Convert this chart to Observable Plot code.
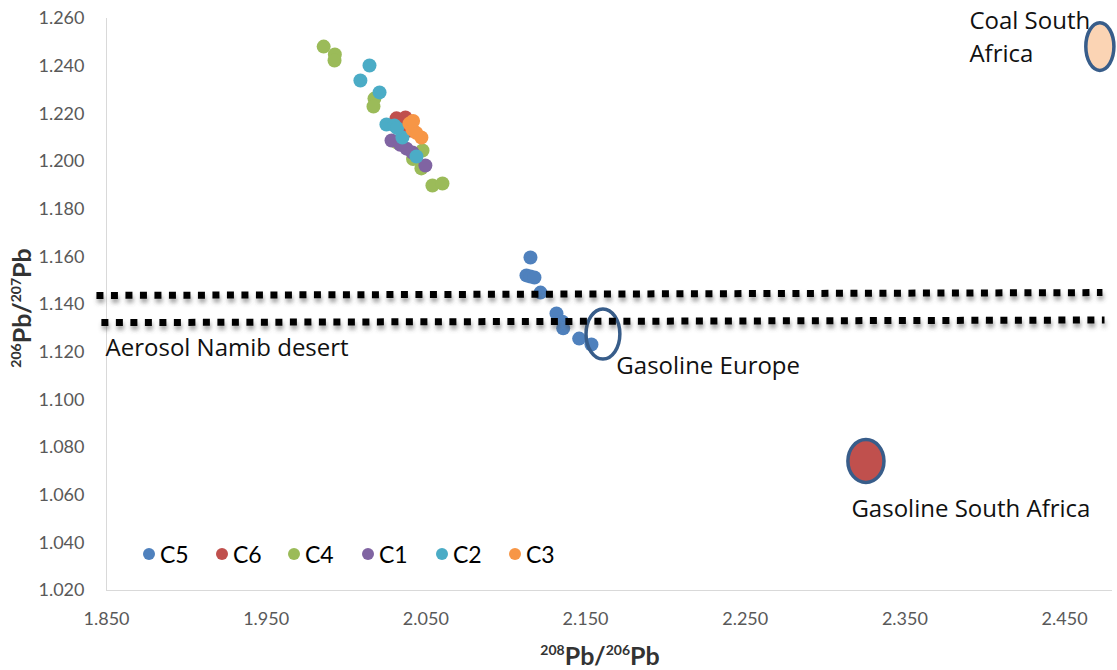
<!DOCTYPE html>
<html>
<head>
<meta charset="utf-8">
<script src="https://cdn.jsdelivr.net/npm/d3@7"></script>
<script src="https://cdn.jsdelivr.net/npm/@observablehq/plot@0.6"></script>
<style>
  body { margin: 0; background: #fff; font-family: Lato, "Open Sans", sans-serif; }
  #wrap { position: relative; width: 1117px; height: 670px; overflow: hidden; }
  .title { position: absolute; font-weight: bold; font-size: 25px; color: #333; white-space: nowrap; line-height: 1; }
  .title sup { font-size: 14px; vertical-align: 0; position: relative; top: -10px; }
  #ytitle { left: 21px; top: 308px; transform: translate(-50%, -50%) rotate(-90deg); }
  #xtitle { left: 600px; top: 655px; transform: translate(-50%, -50%); }
  .leg { position: absolute; top: 540px; display: flex; align-items: center; font-size: 23px; color: #000; }
  .leg i { display: inline-block; width: 12px; height: 12px; border-radius: 50%; margin-right: 5px; }
</style>
</head>
<body>
<div id="wrap">
  <div id="chart"></div>
  <div class="title" id="ytitle"><sup>206</sup>Pb/<sup>207</sup>Pb</div>
  <div class="title" id="xtitle"><sup>208</sup>Pb/<sup>206</sup>Pb</div>
  <div id="legend"></div>
</div>
<script>
// ---- data ----
const seriesNames = ["C5", "C6", "C4", "C1", "C2", "C3"];
const seriesColors = ["#4F81BD", "#C0504D", "#9BBB59", "#8064A2", "#4BACC6", "#F79646"];

const c5x = [2.1155, 2.1130, 2.1155, 2.1180, 2.1218, 2.1318, 2.1355, 2.1360, 2.1460, 2.1537];
const c5y = [1.1597, 1.1522, 1.1517, 1.1513, 1.1450, 1.1362, 1.1328, 1.1300, 1.1257, 1.1232];
const c6x = [2.0316, 2.0372, 2.0340, 2.0400];
const c6y = [1.2181, 1.2185, 1.2150, 1.2130];
const c4x = [1.9860, 1.9930, 1.9928, 2.0178, 2.0172, 2.0320, 2.0479, 2.0472, 2.0541, 2.0604, 2.0420];
const c4y = [1.2482, 1.2449, 1.2424, 1.2264, 1.2231, 1.2080, 1.2046, 1.1971, 1.1899, 1.1908, 1.2010];
const c1x = [2.0285, 2.0379, 2.0416, 2.0497, 2.0340];
const c1y = [1.2088, 1.2054, 1.2038, 1.1983, 1.2070];
const c2x = [2.0147, 2.0090, 2.0210, 2.0253, 2.0303, 2.0353, 2.0441, 2.0320];
const c2y = [1.2403, 1.2340, 1.2290, 1.2155, 1.2151, 1.2101, 1.2021, 1.2140];
const c3x = [2.0397, 2.0416, 2.0472, 2.0440, 2.0420];
const c3y = [1.2159, 1.2134, 1.2101, 1.2120, 1.2170];

const xTicks = [1.85, 1.95, 2.05, 2.15, 2.25, 2.35, 2.45];
const yTicks = [1.02, 1.04, 1.06, 1.08, 1.10, 1.12, 1.14, 1.16, 1.18, 1.20, 1.22, 1.24, 1.26];

// Aerosol Namib desert band (two dotted lines)
const bandX1 = [1.8437, 1.8468];
const bandY1 = [1.1438, 1.1324];
const bandX2 = [2.4737, 2.4750];
const bandY2 = [1.1450, 1.1335];

// source end-members (centre and half-extent)
const sourceNames = ["Gasoline Europe", "Gasoline South Africa", "Coal South Africa"];
const sourceX = [2.1612, 2.3259, 2.4724];
const sourceY = [1.1274, 1.0741, 1.2480];
const sourceHalfX = [0.0106, 0.0113, 0.0088];
const sourceHalfY = [0.0105, 0.0090, 0.0100];

// annotation labels
const labelText = ["Aerosol Namib desert", "Gasoline Europe", "Gasoline South Africa", "Coal South\nAfrica"];
const labelX = [1.8494, 2.1693, 2.3165, 2.3904];
const labelY = [1.1228, 1.1152, 1.0552, 1.2530];

// ---- build tables ----
const seriesX = [c5x, c6x, c4x, c1x, c2x, c3x];
const seriesY = [c5y, c6y, c4y, c1y, c2y, c3y];
const points = seriesNames.flatMap((s, k) => seriesX[k].map((x, i) => ({series: s, x, y: seriesY[k][i]})));
const band = bandX1.map((x1, i) => ({x1, y1: bandY1[i], x2: bandX2[i], y2: bandY2[i]}));
const sources = sourceNames.map((name, i) => ({name, x: sourceX[i], y: sourceY[i], hx: sourceHalfX[i], hy: sourceHalfY[i]}));
const labels = labelText.map((text, i) => ({text, x: labelX[i], y: labelY[i]}));

const sourceFill = ["none", "#C0504D", "#FBD4B4"];

function ellipses(index, scales) {
  const {x, y} = scales;
  const g = d3.create("svg:g");
  sources.forEach((d, i) => {
    const cx = x(d.x), cy = y(d.y);
    g.append("ellipse")
      .attr("cx", cx).attr("cy", cy)
      .attr("rx", Math.abs(x(d.x + d.hx) - cx))
      .attr("ry", Math.abs(y(d.y + d.hy) - cy))
      .attr("fill", sourceFill[i])
      .attr("stroke", "#385D8A")
      .attr("stroke-width", 3.5);
  });
  return g.node();
}

const chart = Plot.plot({
  width: 1117,
  height: 670,
  marginLeft: 106,
  marginRight: 5,
  marginTop: 18,
  marginBottom: 80,
  style: {fontFamily: "Lato, 'Open Sans', sans-serif", fontSize: "18px", color: "#595959", background: "transparent", overflow: "visible"},
  x: {domain: [1.85, 2.48], ticks: xTicks, tickFormat: d3.format(".3f"), tickSize: 0, tickPadding: 22, label: null},
  y: {domain: [1.02, 1.26], ticks: yTicks, tickFormat: d3.format(".3f"), tickSize: 0, tickPadding: 22, label: null},
  color: {domain: seriesNames, range: seriesColors},
  marks: [
    Plot.ruleX([1.85], {stroke: "#D9D9D9"}),
    Plot.ruleY([1.02], {stroke: "#D9D9D9"}),
    Plot.dot(points, {x: "x", y: "y", r: 7, fill: "series", stroke: null}),
    Plot.text(labels, {x: "x", y: "y", text: "text", textAnchor: "start", fontSize: 24, fontFamily: "'Open Sans', Lato, sans-serif", fill: "#111", lineHeight: 1.375}),
    ellipses,
    Plot.link(band, {x1: "x1", y1: "y1", x2: "x2", y2: "y2", stroke: "#555", strokeOpacity: 0.55, strokeWidth: 7, strokeDasharray: "7 7.5", dx: 1, dy: 4}),
    Plot.link(band, {x1: "x1", y1: "y1", x2: "x2", y2: "y2", stroke: "#000", strokeWidth: 7, strokeDasharray: "7 7.5"})
  ]
});

document.getElementById("chart").appendChild(chart);

// soft shadow for the dotted band lines
const svg = d3.select(chart);
svg.insert("defs", ":first-child")
  .append("filter").attr("id", "shadowBlur")
  .attr("x", "-5%").attr("y", "-200%").attr("width", "110%").attr("height", "500%")
  .append("feGaussianBlur").attr("stdDeviation", 2.2);
const linkGroups = svg.selectAll('g[aria-label="link"]').nodes();
if (linkGroups.length) linkGroups[0].setAttribute("filter", "url(#shadowBlur)");

// legend (inside plot area)
const legLeft = [143, 216, 288, 362, 436, 509];
const legend = document.getElementById("legend");
seriesNames.forEach((s, i) => {
  const item = document.createElement("div");
  item.className = "leg";
  item.style.left = legLeft[i] + "px";
  item.innerHTML = `<i style="background:${seriesColors[i]}"></i>${s}`;
  legend.appendChild(item);
});
</script>
</body>
</html>
